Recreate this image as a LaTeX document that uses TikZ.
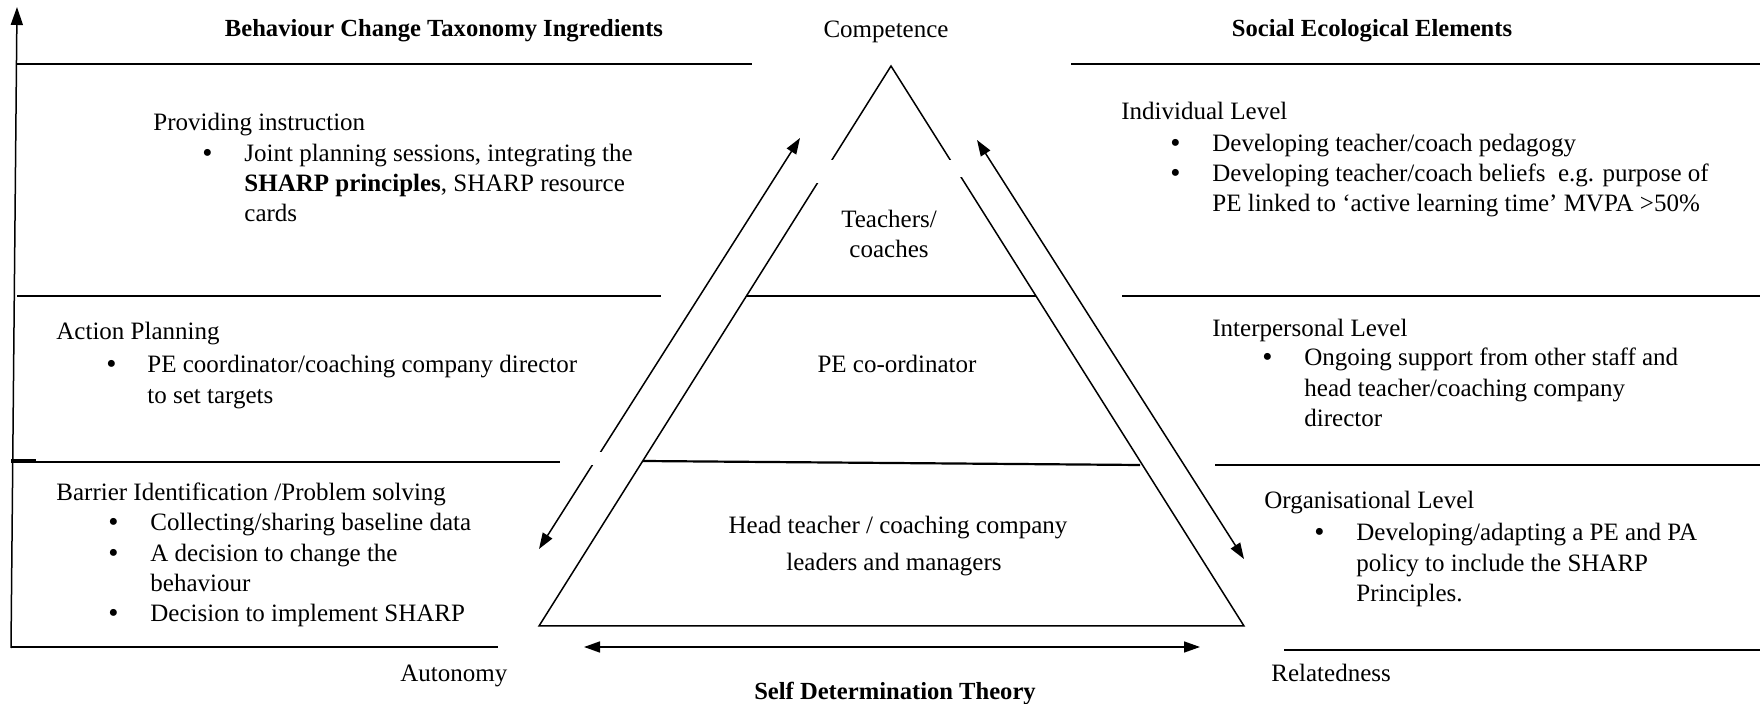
\documentclass[tikz,border=0pt]{standalone}
\usepackage{fontspec}
\setmainfont{Liberation Serif}
\usetikzlibrary{arrows.meta}
\begin{document}
\begin{tikzpicture}[x=0.5pt,y=-0.5pt,
  txt/.style={inner sep=0pt,anchor=base west,font=\fontsize{12.5}{15}\selectfont},
  bul/.style={inner sep=0pt,anchor=base west,font=\fontsize{14.5}{15}\selectfont},
  ctxt/.style={txt,anchor=base},
  hdr/.style={ctxt,font=\fontsize{12.3}{15}\selectfont\bfseries},
  panel/.style={line width=1.1pt},
  tri/.style={line width=0.75pt},
  dbl/.style={line width=0.75pt,{Triangle[length=8pt,width=5.5pt]}-{Triangle[length=8pt,width=5.5pt]}},
  gap/.style={fill=white,draw=none}]
\useasboundingbox (0,0) rectangle (1760,704);
% coordinates
\coordinate (apex) at (891,66);
\coordinate (bl) at (539,626);
\coordinate (br) at (1244,626);
\coordinate (t1l) at (747,296);
\coordinate (t1r) at (1036,296);
\coordinate (t2l) at (643,461);
\coordinate (t2r) at (1140,465);
% axis
\coordinate (ax0) at (11,648);
\coordinate (ax1) at (17,7);
\draw[tri,-{Triangle[length=9pt,width=6pt]}] (ax0) -- (ax1);
% panel lines left
\coordinate (l0a) at (17,64);  \coordinate (l0b) at (752,64);
\coordinate (l1a) at (17,296); \coordinate (l1b) at (661,296);
\coordinate (l2a) at (11,462); \coordinate (l2b) at (560,462);
\coordinate (l2c) at (11,460); \coordinate (l2d) at (36,460);
\coordinate (l3a) at (11,647); \coordinate (l3b) at (498,647);
\draw[panel] (l0a) -- (l0b);
\draw[panel] (l1a) -- (l1b);
\draw[line width=0.6pt] (l2a) -- (l2b);
\draw[panel] (l2c) -- (l2d);
\draw[panel] (l3a) -- (l3b);
% panel lines right
\coordinate (r0a) at (1071,64);  \coordinate (r0b) at (1760,64);
\coordinate (r1a) at (1122,296); \coordinate (r1b) at (1760,296);
\coordinate (r2a) at (1215,465); \coordinate (r2b) at (1760,465);
\coordinate (r3a) at (1284,650); \coordinate (r3b) at (1760,650);
\draw[panel] (r0a) -- (r0b);
\draw[panel] (r1a) -- (r1b);
\draw[panel] (r2a) -- (r2b);
\draw[panel] (r3a) -- (r3b);
% triangle
\draw[tri] (apex) -- (bl) -- (br) -- cycle;
\draw[panel] (t1l) -- (t1r);
\draw[panel] (t2l) -- (t2r);
% arrows
\coordinate (la1) at (800,138); \coordinate (la2) at (539,549);
\coordinate (ra1) at (977,140); \coordinate (ra2) at (1244,559);
\coordinate (ba1) at (584,647); \coordinate (ba2) at (1200,647);
\draw[dbl] (la2) -- (la1);
\draw[dbl] (ra2) -- (ra1);
\draw[dbl] (ba1) -- (ba2);
% small breaks in lines as in the original
\fill[gap] (812,160) rectangle (838,183);
\fill[gap] (944,160) rectangle (966,177);
\fill[gap] (590,452) rectangle (606,465);
% headers
\node[hdr] (h1) at (444,37) {Behaviour Change Taxonomy Ingredients};
\node[ctxt] (comp) at (886,38) {Competence};
\node[hdr] (h2) at (1372,37) {Social Ecological Elements};
\node[hdr] (sdt) at (895,699) {Self Determination Theory};
\node[txt] (aut) at (400,681) {Autonomy};
\node[txt] (rel) at (1271,681) {Relatedness};
% triangle text
\node[ctxt] (tc1) at (889,228) {Teachers/};
\node[ctxt] (tc2) at (889,258) {coaches};
\node[ctxt] (pec) at (897,373) {PE co-ordinator};
\node[ctxt] (ht1) at (898,534) {Head teacher / coaching company};
\node[ctxt] (ht2) at (894,571) {leaders and managers};
% left panel
\node[txt] (pi) at (153,131) {Providing instruction};
\node[bul] (pib) at (202,163) {\textbullet};
\node[txt] (pi1) at (244,162) {Joint planning sessions, integrating the};
\node[txt] (pi2) at (244,192) {\textbf{SHARP principles}, SHARP resource};
\node[txt] (pi3) at (244,222) {cards};
\node[txt] (ap) at (56,340) {Action Planning};
\node[bul] (apb) at (106,374) {\textbullet};
\node[txt] (ap1) at (147,373) {PE coordinator/coaching company director};
\node[txt] (ap2) at (147,404) {to set targets};
\node[txt] (bi) at (56,501) {Barrier Identification /Problem solving};
\node[bul] (bib1) at (108,532) {\textbullet};
\node[txt] (bi1) at (150,531) {Collecting/sharing baseline data};
\node[bul] (bib2) at (108,563) {\textbullet};
\node[txt] (bi2) at (150,562) {A decision to change the};
\node[txt] (bi3) at (150,592) {behaviour};
\node[bul] (bib4) at (108,623) {\textbullet};
\node[txt] (bi4) at (150,622) {Decision to implement SHARP};
% right panel
\node[txt] (il) at (1121,120) {Individual Level};
\node[bul] (ilb1) at (1170,153) {\textbullet};
\node[txt] (il1) at (1212,152) {Developing teacher/coach pedagogy};
\node[bul] (ilb2) at (1170,183) {\textbullet};
\node[txt] (il2) at (1212,182) {Developing teacher/coach beliefs\ \ e.g. purpose of};
\node[txt] (il3) at (1212,212) {PE linked to `active learning time' MVPA >50\%};
\node[txt] (ip) at (1212,337) {Interpersonal Level};
\node[bul] (ipb) at (1262,367) {\textbullet};
\node[txt] (ip1) at (1304,366) {Ongoing support from other staff and};
\node[txt] (ip2) at (1304,397) {head teacher/coaching company};
\node[txt] (ip3) at (1304,427) {director};
\node[txt] (ol) at (1264,509) {Organisational Level};
\node[bul] (olb) at (1314,542) {\textbullet};
\node[txt] (ol1) at (1356,541) {Developing/adapting a PE and PA};
\node[txt] (ol2) at (1356,572) {policy to include the SHARP};
\node[txt] (ol3) at (1356,602) {Principles.};
\end{tikzpicture}
\end{document}
